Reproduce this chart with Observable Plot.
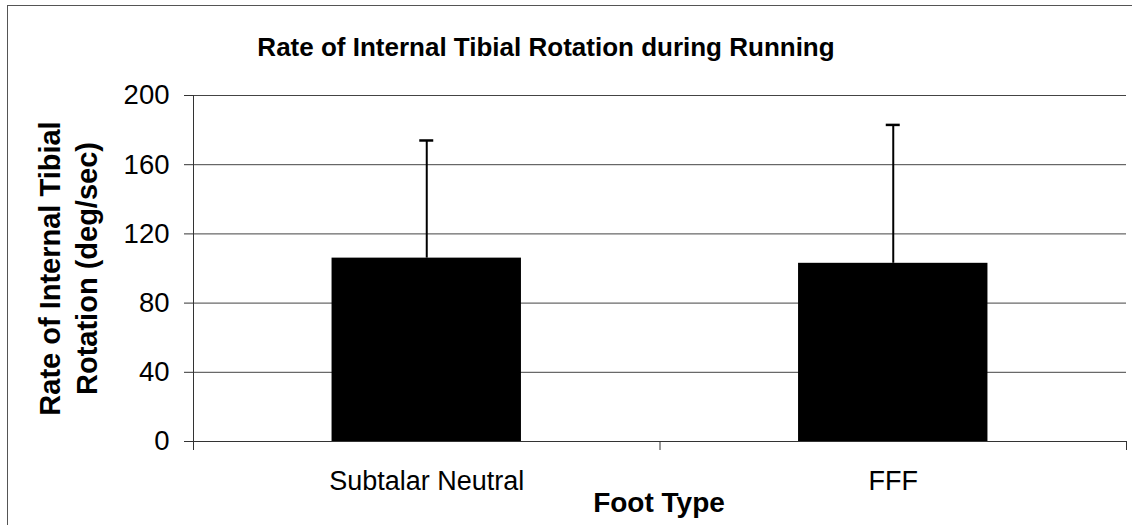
<!DOCTYPE html>
<html><head><meta charset="utf-8">
<script src="https://cdn.jsdelivr.net/npm/d3@7"></script>
<script src="https://cdn.jsdelivr.net/npm/@observablehq/plot@0.6"></script>
<style>
body{margin:0;background:#fff;}
#wrap{position:relative;width:1132px;height:525px;overflow:hidden;}
#border{position:absolute;left:7px;top:5px;width:1130px;height:530px;border-left:1px solid #555;border-top:1px solid #555;pointer-events:none;}
</style></head><body><div id="wrap"><div id="border"></div></div>
<script>
const categories = ["Subtalar Neutral", "FFF"];
const means = [106, 103];
const sds = [68, 80];
const yTicks = [0, 40, 80, 120, 160, 200];
const title = "Rate of Internal Tibial Rotation during Running";
const yLabelLines = ["Rate of Internal Tibial", "Rotation (deg/sec)"];
const xLabel = "Foot Type";

const data = categories.map((c, i) => ({c, i, mean: means[i], sd: sds[i]}));
const font = "'Liberation Sans', Arial, sans-serif";
const half = 0.203, cap = 0.015;

const chart = Plot.plot({
  width: 1132, height: 525,
  marginLeft: 193, marginRight: 6, marginTop: 95, marginBottom: 84,
  style: {fontFamily: font, background: "transparent", color: "black", fontSize: "26px"},
  x: {domain: [0, categories.length], axis: null},
  y: {domain: [0, 200], axis: null},
  marks: [
    Plot.gridY(yTicks, {stroke: "#444", strokeOpacity: 1, strokeWidth: 1}),
    Plot.axisY({ticks: yTicks, tickSize: 9, tickPadding: 15, fontSize: 27.5, label: null, stroke: "#333"}),
    Plot.axisX({ticks: d3.range(categories.length + 1), tickFormat: () => "", tickSize: 9, label: null, stroke: "#333"}),
    Plot.ruleX([0], {stroke: "#333"}),
    Plot.ruleY([0], {stroke: "#333"}),
    Plot.rect(data, {x1: d => d.i + 0.5 - half, x2: d => d.i + 0.5 + half, y1: 0, y2: "mean", fill: "black"}),
    Plot.ruleX(data, {x: d => d.i + 0.5, y1: "mean", y2: d => d.mean + d.sd, stroke: "black", strokeWidth: 2}),
    Plot.ruleY(data, {y: d => d.mean + d.sd, x1: d => d.i + 0.5 - cap, x2: d => d.i + 0.5 + cap, stroke: "black", strokeWidth: 2.5}),
    Plot.text(data, {x: d => d.i + 0.5, text: "c", frameAnchor: "bottom", lineAnchor: "top", dy: 29, fontSize: 27}),
    Plot.text([xLabel], {frameAnchor: "bottom", lineAnchor: "top", dy: 51, dx: -1, fontSize: 28, fontWeight: "bold"}),
    Plot.text([title], {frameAnchor: "top", lineAnchor: "middle", dx: -114, dy: -48, fontSize: 26, fontWeight: "bold"}),
    Plot.text([yLabelLines[0]], {frameAnchor: "left", textAnchor: "middle", lineAnchor: "middle", rotate: -90, dx: -143, fontSize: 29, fontWeight: "bold"}),
    Plot.text([yLabelLines[1]], {frameAnchor: "left", textAnchor: "middle", lineAnchor: "middle", rotate: -90, dx: -106, fontSize: 29, fontWeight: "bold"})
  ]
});
document.getElementById("wrap").prepend(chart);
</script>
</body></html>
